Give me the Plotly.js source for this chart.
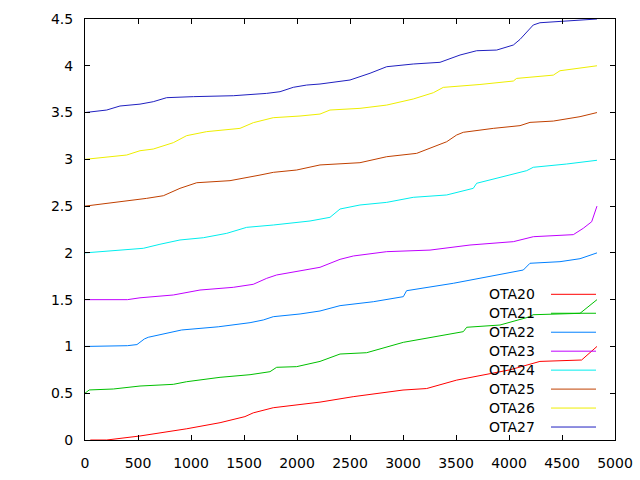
<!DOCTYPE html>
<html>
<head>
<meta charset="utf-8">
<script src="https://cdn.plot.ly/plotly-3.0.1.min.js"></script>
<style>
  html, body { margin: 0; padding: 0; background: #fff; }
  #chart { width: 640px; height: 480px; }
</style>
</head>
<body>
<div id="chart"></div>
<script>
/* cumulative curves per OTA */

const NAMES = ['OTA20', 'OTA21', 'OTA22', 'OTA23', 'OTA24', 'OTA25', 'OTA26', 'OTA27'];
const COLORS = ['#ff0000', '#00c000', '#0080ff', '#c000ff',
  '#00eeee', '#c04000', '#eeee00', '#2020c0'];

const ota20_x = [50, 205, 519, 960, 1274, 1509, 1587, 1776, 2217, 2530, 3000, 3223, 3506, 4009, 4292, 4685, 4830];
const ota20_y = [0.0, 0.0, 0.043, 0.12, 0.185, 0.25, 0.29, 0.345, 0.405, 0.463, 0.534, 0.55, 0.64, 0.75, 0.84, 0.855, 1.0];

const ota21_x = [0, 40, 267, 519, 833, 959, 1274, 1557, 1745, 1808, 1997, 2217, 2406, 2657, 3003, 3318, 3569, 3601, 3915, 4198, 4227, 4670, 4733, 4830];
const ota21_y = [0.5, 0.535, 0.545, 0.577, 0.595, 0.623, 0.67, 0.698, 0.73, 0.777, 0.784, 0.84, 0.919, 0.933, 1.044, 1.112, 1.158, 1.205, 1.229, 1.318, 1.339, 1.354, 1.41, 1.5];

const ota22_x = [0, 267, 400, 490, 560, 597, 912, 1257, 1557, 1682, 1776, 2029, 2217, 2406, 2720, 3003, 3034, 3475, 3790, 4135, 4198, 4481, 4670, 4830];
const ota22_y = [1.0, 1.0, 1.008, 1.02, 1.08, 1.098, 1.176, 1.21, 1.254, 1.283, 1.318, 1.347, 1.379, 1.436, 1.478, 1.532, 1.596, 1.675, 1.739, 1.817, 1.889, 1.906, 1.938, 2.0];

const ota23_x = [0, 400, 519, 833, 1085, 1399, 1587, 1714, 1808, 2217, 2406, 2532, 2846, 3255, 3632, 4041, 4230, 4607, 4701, 4780, 4830];
const ota23_y = [1.5, 1.5, 1.52, 1.55, 1.603, 1.632, 1.664, 1.728, 1.764, 1.846, 1.931, 1.967, 2.013, 2.03, 2.084, 2.12, 2.173, 2.195, 2.263, 2.333, 2.5];

const ota24_x = [0, 299, 550, 707, 896, 1116, 1337, 1525, 1777, 2123, 2311, 2406, 2594, 2846, 3097, 3412, 3663, 3695, 3978, 4167, 4229, 4544, 4830];
const ota24_y = [2.0, 2.024, 2.049, 2.092, 2.138, 2.162, 2.209, 2.273, 2.298, 2.341, 2.38, 2.469, 2.512, 2.54, 2.594, 2.619, 2.69, 2.744, 2.822, 2.879, 2.915, 2.95, 2.99];

const ota25_x = [0, 267, 582, 739, 896, 1054, 1368, 1651, 1777, 1997, 2217, 2594, 2846, 3129, 3255, 3412, 3506, 3569, 3852, 4104, 4198, 4418, 4670, 4830];
const ota25_y = [2.5, 2.536, 2.583, 2.611, 2.69, 2.75, 2.772, 2.832, 2.861, 2.886, 2.94, 2.964, 3.028, 3.064, 3.117, 3.188, 3.26, 3.289, 3.331, 3.36, 3.395, 3.409, 3.456, 3.5];

const ota26_x = [0, 205, 393, 519, 644, 833, 959, 1148, 1462, 1588, 1776, 2028, 2217, 2311, 2594, 2846, 3097, 3286, 3380, 3726, 4041, 4072, 4418, 4481, 4670, 4830];
const ota26_y = [3.0, 3.021, 3.046, 3.092, 3.11, 3.178, 3.253, 3.296, 3.331, 3.392, 3.445, 3.463, 3.484, 3.527, 3.545, 3.58, 3.645, 3.712, 3.769, 3.8, 3.837, 3.865, 3.9, 3.947, 3.973, 4.0];

const ota27_x = [0, 205, 330, 519, 644, 770, 1022, 1399, 1714, 1840, 1965, 2091, 2217, 2500, 2689, 2846, 3097, 3349, 3538, 3695, 3884, 4041, 4104, 4167, 4229, 4292, 4607, 4830];
const ota27_y = [3.5, 3.527, 3.57, 3.59, 3.616, 3.659, 3.67, 3.68, 3.705, 3.723, 3.77, 3.794, 3.805, 3.848, 3.92, 3.99, 4.019, 4.037, 4.115, 4.161, 4.168, 4.222, 4.282, 4.364, 4.436, 4.46, 4.483, 4.5];

const SERIES_X = [ota20_x, ota21_x, ota22_x, ota23_x, ota24_x, ota25_x, ota26_x, ota27_x];
const SERIES_Y = [ota20_y, ota21_y, ota22_y, ota23_y, ota24_y, ota25_y, ota26_y, ota27_y];

const FONT = { family: 'DejaVu Sans, sans-serif', size: 14, color: '#000' };

const traces = NAMES.map((n, i) => ({
  type: 'scatter', mode: 'lines', name: n,
  x: SERIES_X[i], y: SERIES_Y[i],
  line: { color: COLORS[i], width: 1 },
  showlegend: false,
}));

// gnuplot style key: text right-aligned, sample line to its right
const KEY_TOP = (440 - 294.3) / 421, KEY_STEP = 18.96 / 421;
const annotations = [], shapes = [];
NAMES.forEach((n, i) => {
  const y = KEY_TOP - i * KEY_STEP;
  annotations.push({
    xref: 'paper', yref: 'paper', x: (537 - 85) / 530, y: y,
    xanchor: 'right', yanchor: 'middle', text: n, showarrow: false,
    font: FONT,
  });
  shapes.push({
    type: 'line', xref: 'paper', yref: 'paper',
    x0: (551 - 85) / 530, x1: (596 - 85) / 530, y0: y, y1: y,
    line: { color: COLORS[i], width: 1 },
  });
});

const axis = {
  showline: true, linecolor: '#000', linewidth: 1, mirror: 'ticks',
  ticks: 'inside', ticklen: 5, tickcolor: '#000', tickwidth: 1,
  showgrid: false, zeroline: false, tickfont: FONT,
};

const layout = {
  width: 640, height: 480,
  paper_bgcolor: '#fff', plot_bgcolor: '#fff',
  font: FONT,
  margin: { l: 85, r: 25, t: 19, b: 40 },
  xaxis: Object.assign({}, axis, { range: [0, 5000], dtick: 500, tick0: 0, ticklabelstandoff: 10 }),
  yaxis: Object.assign({}, axis, { range: [0, 4.5], dtick: 0.5, tick0: 0, ticklabelstandoff: 8 }),
  annotations, shapes,
  showlegend: false,
};

Plotly.newPlot('chart', traces, layout, { staticPlot: true, displayModeBar: false });
</script>
</body>
</html>
